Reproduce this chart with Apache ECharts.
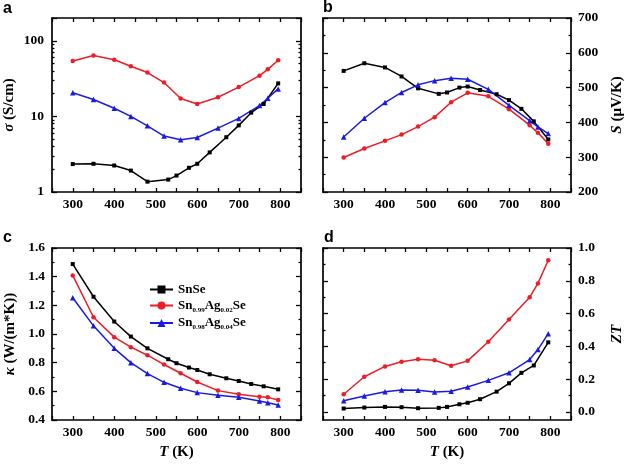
<!DOCTYPE html>
<html><head><meta charset="utf-8">
<script src="https://cdn.jsdelivr.net/npm/echarts@6/dist/echarts.min.js"></script>
<style>html,body{margin:0;padding:0;background:#fff}#c{width:625px;height:464px}</style>
</head><body><div id="c"></div>
<script>
// ---------- data ----------
const seriesNames = ['SnSe', 'Sn0.99Ag0.02Se', 'Sn0.98Ag0.04Se'];
const T_SnSe = [300, 350, 400, 440, 480, 530, 550, 580, 600, 630, 670, 700, 730, 760, 795];
const T_Ag = [300, 350, 400, 440, 480, 520, 560, 600, 650, 700, 750, 770, 795];

const sigma_SnSe = [2.34, 2.36, 2.24, 1.92, 1.37, 1.46, 1.65, 2.09, 2.36, 3.34, 5.3, 7.6, 11.2, 14.6, 27.3];
const sigma_Ag02 = [54, 64, 56, 46, 38, 28, 17.2, 14.6, 17.9, 24.4, 34.5, 41.9, 55.2];
const sigma_Ag04 = [20.5, 16.7, 12.8, 10, 7.5, 5.5, 4.9, 5.25, 7.0, 9.4, 13.9, 17.4, 23.1];

const S_SnSe = [548, 570, 558, 532, 498, 482, 486, 500, 503, 493, 481, 464, 439, 403, 351];
const S_Ag02 = [299, 325, 347, 365, 388, 415, 458, 485, 475, 438, 392, 370, 339];
const S_Ag04 = [358, 412, 457, 486, 508, 520, 527, 524, 495, 449, 405, 387, 368];

const kappa_SnSe = [1.488, 1.26, 1.087, 0.982, 0.90, 0.824, 0.796, 0.766, 0.749, 0.719, 0.691, 0.672, 0.651, 0.635, 0.614];
const kappa_Ag02 = [1.409, 1.117, 0.978, 0.908, 0.852, 0.787, 0.726, 0.665, 0.605, 0.579, 0.563, 0.558, 0.54];
const kappa_Ag04 = [1.253, 1.057, 0.90, 0.80, 0.724, 0.663, 0.621, 0.591, 0.572, 0.558, 0.532, 0.521, 0.504];

const ZT_SnSe = [0.02, 0.026, 0.03, 0.028, 0.022, 0.024, 0.03, 0.046, 0.055, 0.077, 0.123, 0.174, 0.238, 0.283, 0.424];
const ZT_Ag02 = [0.107, 0.214, 0.277, 0.305, 0.321, 0.315, 0.281, 0.311, 0.428, 0.564, 0.699, 0.784, 0.925];
const ZT_Ag04 = [0.067, 0.097, 0.123, 0.133, 0.131, 0.121, 0.125, 0.152, 0.192, 0.238, 0.319, 0.38, 0.477];

// tick labels
const T_ticks = [300, 400, 500, 600, 700, 800];
const sigma_ticks = [1, 10, 100];
const sigma_minor = [2, 3, 4, 5, 6, 7, 8, 9, 20, 30, 40, 50, 60, 70, 80, 90];
const ZT_ticks = [0, 0.2, 0.4, 0.6, 0.8, 1.0];
const ZT_minor = [0.1, 0.3, 0.5, 0.7, 0.9];

const panelLetters = ['a', 'b', 'c', 'd'];
const legendLabels = {
  'SnSe': '{b|SnSe}',
  'Sn0.99Ag0.02Se': '{b|Sn}{s|0.99}{b|Ag}{s|0.02}{b|Se}',
  'Sn0.98Ag0.04Se': '{b|Sn}{s|0.98}{b|Ag}{s|0.04}{b|Se}'
};

// ---------- styles ----------
const FONT = '"Liberation Serif","Times New Roman",serif';
const colors = ['#000000', '#ee1c25', '#1a1ae0'];
const symbols = ['rect', 'circle', 'triangle'];
const symbolSizes = [4, 4.5, 5.5];

const grids = [
  {left: 52, top: 18, width: 249, height: 174},
  {left: 323, top: 18, width: 248, height: 174},
  {left: 52, top: 248, width: 249, height: 172},
  {left: 323, top: 248, width: 248, height: 172}
];

const axLine = {show: true, onZero: false, lineStyle: {color: '#000', width: 1.7}};
const tick = (len, extra) => Object.assign({show: true, inside: true, length: len, interval: 0, lineStyle: {color: '#000', width: 1.3}}, extra || {});
const labelStyle = {color: '#000', fontFamily: FONT, fontWeight: 'bold', fontSize: 13.5};
const nameStyle = {
  color: '#000', fontFamily: FONT, fontWeight: 'bold', fontSize: 15,
  rich: {i: {color: '#000', fontFamily: FONT, fontWeight: 'bold', fontStyle: 'italic', fontSize: 15}}
};

const xAxes = [], yAxes = [], series = [];

function addX(g, withName) {
  const base = {type: 'value', gridIndex: g, min: 250, max: 850, interval: 50,
    splitLine: {show: false}, axisLine: axLine, axisTick: tick(4)};
  xAxes.push(Object.assign({}, base, {
    position: 'bottom',
    axisLabel: Object.assign({show: true, interval: 0, margin: 6,
      formatter: v => T_ticks.includes(Math.round(v)) ? String(Math.round(v)) : ''}, labelStyle),
    name: withName ? '{i|T} (K)' : '', nameLocation: 'middle', nameGap: 25,
    nameTextStyle: nameStyle
  }));
  const idx = xAxes.length - 1;
  xAxes.push(Object.assign({}, base, {position: 'top', axisLabel: {show: false}}));
  return idx;
}

function addSeries(g, xi, yi, datasets) {
  datasets.forEach((d, k) => {
    series.push({
      type: 'line', name: seriesNames[k], xAxisIndex: xi, yAxisIndex: yi,
      data: d[0].map((t, j) => [t, d[1][j]]),
      symbol: symbols[k], symbolSize: symbolSizes[k], showSymbol: true, showAllSymbol: true,
      lineStyle: {color: colors[k], width: 1.5}, itemStyle: {color: colors[k]},
      emphasis: {disabled: true}, animation: false, clip: false
    });
  });
}

// ---- panel a (log) ----
let xi = addX(0, false);
yAxes.push({type: 'log', logBase: 10, gridIndex: 0, position: 'left', min: 1, max: 200,
  splitLine: {show: false}, axisLine: axLine, axisTick: tick(5),
  axisLabel: Object.assign({margin: 8, formatter: v => {
    const r = sigma_ticks.find(t => Math.abs(t - v) / t < 1e-6); return r ? String(r) : '';
  }}, labelStyle),
  name: '{i|σ} (S/cm)', nameLocation: 'middle', nameRotate: 90, nameGap: 35, nameTextStyle: nameStyle});
let yi = yAxes.length - 1;
yAxes.push({type: 'log', logBase: 10, gridIndex: 0, position: 'right', min: 1, max: 200,
  splitLine: {show: false}, axisLine: axLine, axisTick: tick(5), axisLabel: {show: false}});
['left', 'right'].forEach(p => yAxes.push({type: 'value', gridIndex: 0, position: p, min: 0, max: Math.log10(200),
  splitLine: {show: false}, axisLine: {show: false},
  axisTick: tick(2.5, {customValues: sigma_minor.map(v => Math.log10(v))}), axisLabel: {show: false}}));
addSeries(0, xi, yi, [[T_SnSe, sigma_SnSe], [T_Ag, sigma_Ag02], [T_Ag, sigma_Ag04]]);

// ---- panel b ----
xi = addX(1, false);
yAxes.push({type: 'value', gridIndex: 1, position: 'right', min: 200, max: 700, interval: 100,
  splitLine: {show: false}, axisLine: axLine, axisTick: tick(5),
  minorTick: {show: true, splitNumber: 2, length: 2.5, lineStyle: {color: '#000', width: 1.2}},
  axisLabel: Object.assign({margin: 7}, labelStyle),
  name: '{i|S} (μV/K)', nameLocation: 'middle', nameRotate: 90, nameGap: 39, nameTextStyle: nameStyle});
yi = yAxes.length - 1;
yAxes.push({type: 'value', gridIndex: 1, position: 'left', min: 200, max: 700, interval: 100,
  splitLine: {show: false}, axisLine: axLine, axisTick: tick(5),
  minorTick: {show: true, splitNumber: 2, length: 2.5, lineStyle: {color: '#000', width: 1.2}},
  axisLabel: {show: false}});
addSeries(1, xi, yi, [[T_SnSe, S_SnSe], [T_Ag, S_Ag02], [T_Ag, S_Ag04]]);

// ---- panel c ----
xi = addX(2, true);
yAxes.push({type: 'value', gridIndex: 2, position: 'left', min: 0.4, max: 1.6, interval: 0.2,
  splitLine: {show: false}, axisLine: axLine, axisTick: tick(5),
  minorTick: {show: true, splitNumber: 2, length: 2.5, lineStyle: {color: '#000', width: 1.2}},
  axisLabel: Object.assign({margin: 7, formatter: v => v.toFixed(1)}, labelStyle),
  name: '{i|κ} (W/(m*K))', nameLocation: 'middle', nameRotate: 90, nameGap: 34, nameTextStyle: nameStyle});
yi = yAxes.length - 1;
yAxes.push({type: 'value', gridIndex: 2, position: 'right', min: 0.4, max: 1.6, interval: 0.2,
  splitLine: {show: false}, axisLine: axLine, axisTick: tick(5),
  minorTick: {show: true, splitNumber: 2, length: 2.5, lineStyle: {color: '#000', width: 1.2}},
  axisLabel: {show: false}});
addSeries(2, xi, yi, [[T_SnSe, kappa_SnSe], [T_Ag, kappa_Ag02], [T_Ag, kappa_Ag04]]);

// ---- panel d ----
xi = addX(3, true);
yAxes.push({type: 'value', gridIndex: 3, position: 'right', min: -0.05, max: 1.0,
  splitLine: {show: false}, axisLine: axLine, axisTick: tick(5, {customValues: ZT_ticks}),
  axisLabel: Object.assign({margin: 7, customValues: ZT_ticks, formatter: v => Number(v).toFixed(1)}, labelStyle),
  name: '{i|ZT}', nameLocation: 'middle', nameRotate: 90, nameGap: 39, nameTextStyle: nameStyle});
yi = yAxes.length - 1;
yAxes.push({type: 'value', gridIndex: 3, position: 'left', min: -0.05, max: 1.0,
  splitLine: {show: false}, axisLine: axLine, axisTick: tick(5, {customValues: ZT_ticks}), axisLabel: {show: false}});
['left', 'right'].forEach(p => yAxes.push({type: 'value', gridIndex: 3, position: p, min: -0.05, max: 1.0,
  splitLine: {show: false}, axisLine: {show: false},
  axisTick: tick(2.5, {customValues: ZT_minor}), axisLabel: {show: false}}));
addSeries(3, xi, yi, [[T_SnSe, ZT_SnSe], [T_Ag, ZT_Ag02], [T_Ag, ZT_Ag04]]);

xAxes.forEach(a => { a.nameMoveOverlap = false; });
yAxes.forEach(a => { a.nameMoveOverlap = false; });

const titlePos = [{left: 3, top: 1}, {left: 323, top: 0}, {left: 3, top: 230}, {left: 324, top: 230}];

const option = {
  animation: false,
  backgroundColor: '#ffffff',
  title: panelLetters.map((t, i) => ({
    text: t, left: titlePos[i].left, top: titlePos[i].top, padding: 0,
    textStyle: {fontFamily: '"Liberation Sans",Arial,sans-serif', fontWeight: 'bold', fontSize: 16, color: '#000'}
  })),
  grid: grids.map(g => Object.assign({containLabel: false, outerBoundsMode: 'none'}, g)),
  xAxis: xAxes,
  yAxis: yAxes,
  legend: {
    data: seriesNames, orient: 'vertical', left: 149, top: 283, itemGap: 3, padding: 0,
    itemWidth: 23, itemHeight: 10, lineStyle: {width: 2},
    formatter: n => legendLabels[n],
    textStyle: {
      color: '#000', fontFamily: FONT, fontWeight: 'bold', fontSize: 13,
      rich: {
        b: {color: '#000', fontFamily: FONT, fontWeight: 'bold', fontSize: 13, lineHeight: 16},
        s: {color: '#000', fontFamily: FONT, fontWeight: 'bold', fontSize: 7, lineHeight: 8, verticalAlign: 'bottom'}
      }
    }
  },
  series: series
};

const chart = echarts.init(document.getElementById('c'), null, {renderer: 'canvas'});
chart.setOption(option);
</script>
</body></html>
